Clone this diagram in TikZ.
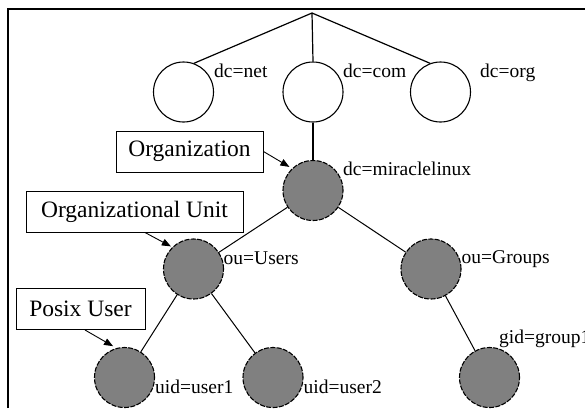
\documentclass[tikz,border=0pt]{standalone}
\usepackage{fontspec}
\setmainfont{Liberation Serif}
\usetikzlibrary{arrows.meta}

\definecolor{gray50}{HTML}{808080}
\tikzset{
  emptydc/.style={circle, draw=black, line width=1.1pt, fill=white, minimum size=60pt, inner sep=0pt},
  entry/.style={circle, draw=black, line width=1.1pt, dash pattern=on 5pt off 1.4pt, fill=gray50, minimum size=60pt, inner sep=0pt},
  lbl/.style={anchor=base west, inner sep=0pt, font=\fontsize{19.5}{21}\selectfont},
  callout/.style={draw=black, line width=1pt, fill=white, inner sep=0pt, minimum height=41pt, font=\fontsize{23.5}{25}\selectfont},
  link/.style={line width=1pt},
  pointer/.style={line width=0.9pt, -{Triangle[length=9pt,width=7pt]}}
}

\begin{document}
\begin{tikzpicture}[x=1pt, y=-1pt]
  \useasboundingbox (0,0) rectangle (585,408);
  \fill[white] (0,0) rectangle (585,408);
  \clip (0,0) rectangle (585,408);

  % frame
  \draw[line width=1.5pt] (8,408) -- (8,9) -- (585,9);

  % directory tree
  \coordinate (root) at (312,13);
  \node[emptydc] (net) at (183.5,92) {};
  \node[emptydc] (com) at (313,92) {};
  \node[emptydc] (org) at (440.5,92) {};
  \node[entry] (mir) at (313,190.5) {};
  \node[entry] (users) at (193.5,269) {};
  \node[entry] (groups) at (431,269) {};
  \node[entry] (u1) at (124.5,377.5) {};
  \node[entry] (u2) at (273,377.5) {};
  \node[entry] (g1) at (489.5,377.5) {};

  \draw[link, line width=1.2pt] (root) -- (net.70);
  \draw[link, line width=1.2pt] (root) -- (com.north);
  \draw[link, line width=1.2pt] (root) -- (org.110);
  \draw[link, line width=1.2pt] (com.south) -- (mir.north);
  \draw[link] (mir) -- (users);
  \draw[link] (mir) -- (groups);
  \draw[link] (users) -- (u1);
  \draw[link] (users) -- (u2);
  \draw[link] (groups) -- (g1);

  % entry names
  \node[lbl] (lnet) at (214,77) {dc=net};
  \node[lbl] (lcom) at (343,77) {dc=com};
  \node[lbl] (lorg) at (480,77) {dc=org};
  \node[lbl] (lmir) at (343,175) {dc=miraclelinux};
  \node[lbl] (lusers) at (223.5,264) {ou=Users};
  \node[lbl] (lgroups) at (461.5,263) {ou=Groups};
  \node[lbl] (lu1) at (155,393) {uid=user1};
  \node[lbl] (lu2) at (303.5,393) {uid=user2};
  \node[lbl] (lg1) at (499,343) {gid=group1};

  % callouts
  \node[callout, minimum width=147pt] (cOrg) at (189.5,151.5) {Organization};
  \node[callout, minimum width=217pt] (cUnit) at (134.5,211.5) {Organizational Unit};
  \node[callout, minimum width=129pt] (cUser) at (80.5,309) {Posix User};

  \draw[pointer] (cOrg.east) -- ([shift={(-2pt,2pt)}]mir.135);
  \draw[pointer] ([xshift=10.5pt]cUnit.south) -- ([shift={(-1pt,1pt)}]users.135);
  \draw[pointer] ([xshift=4.5pt]cUser.south) -- ([yshift=3pt]u1.112);
\end{tikzpicture}
\end{document}
